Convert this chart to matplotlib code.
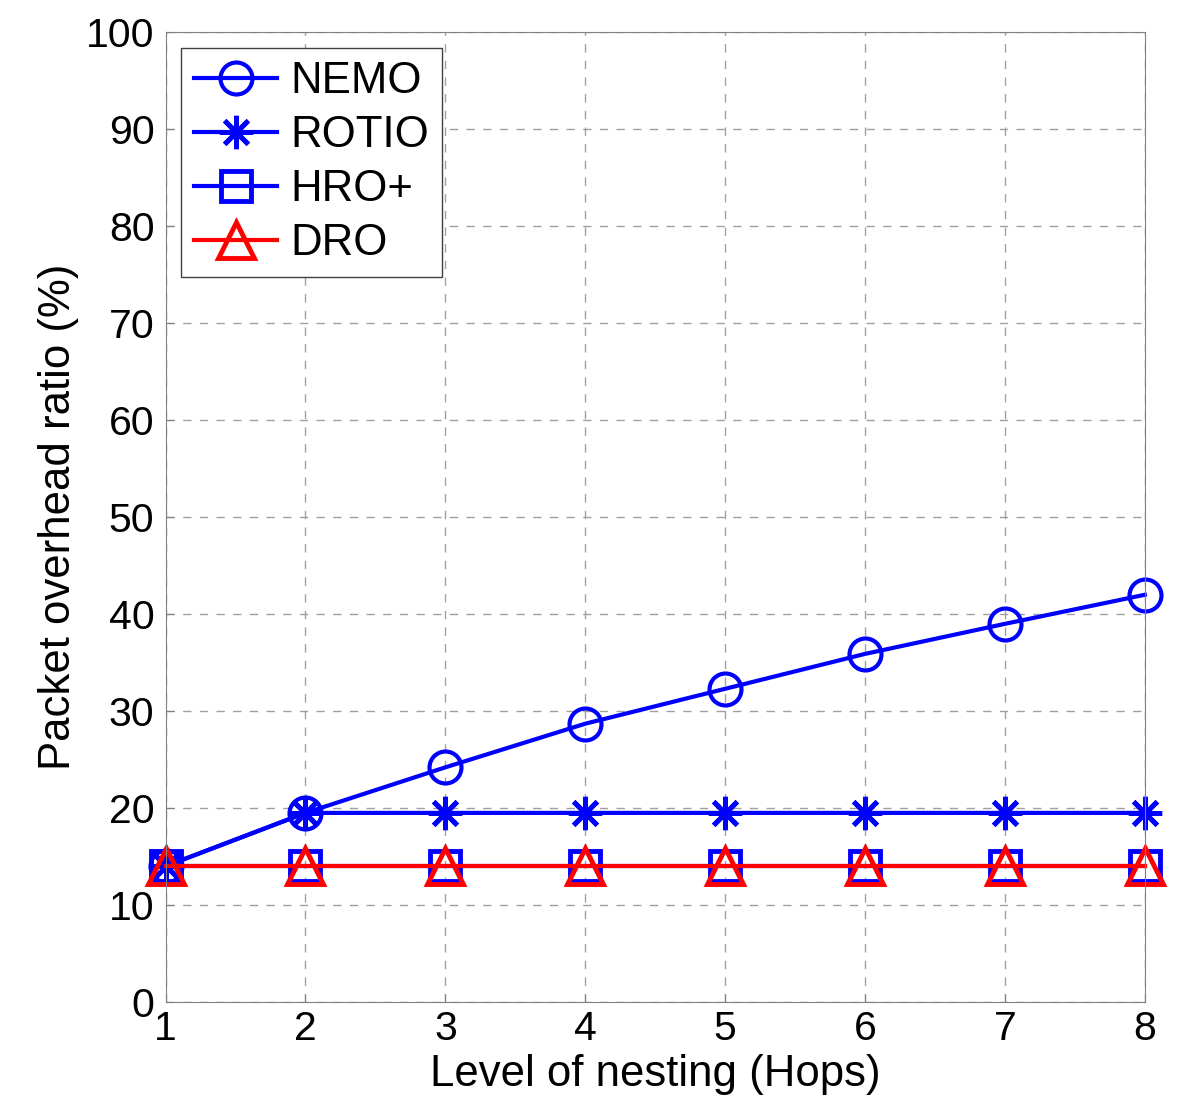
import matplotlib
matplotlib.use("Agg")
import matplotlib.pyplot as plt

# Values
hops = [1, 2, 3, 4, 5, 6, 7, 8]
nemo = [14.0, 19.5, 24.2, 28.7, 32.3, 35.9, 39.0, 42.0]
rotio = [14.0, 19.5, 19.5, 19.5, 19.5, 19.5, 19.5, 19.5]
hro_plus = [14.0, 14.0, 14.0, 14.0, 14.0, 14.0, 14.0, 14.0]
dro = [14.0, 14.0, 14.0, 14.0, 14.0, 14.0, 14.0, 14.0]

plt.rcParams["font.family"] = ["Liberation Sans", "DejaVu Sans"]

fig = plt.figure(figsize=(12, 11.19), dpi=100)
ax = fig.add_axes([0.138, 0.1046, 0.816, 0.8664])

lw = 3
kw = dict(lw=lw, clip_on=False)
ax.plot(hops, nemo, color="#0000ff", marker="o", ms=23,
        mfc="none", mew=3, label="NEMO", **kw)
ax.plot(hops, rotio, color="#0000ff", marker=(8, 2, 0), ms=24,
        mew=3.5, label="ROTIO", **kw)
ax.plot(hops, hro_plus, color="#0000ff", marker="s", ms=21,
        mfc="none", mew=3.5, label="HRO+", **kw)
ax.plot(hops, dro, color="#ff0000", marker="^", ms=26,
        mfc="none", mew=3.5, label="DRO", **kw)

ax.set_xlim(1, 8)
ax.set_ylim(0, 100)
ax.set_xticks(hops)
ax.set_yticks(range(0, 101, 10))
ax.tick_params(labelsize=29.5, direction="in", length=6, color="#808080")
ax.tick_params(axis="y", pad=8)
ax.tick_params(axis="x", pad=6)
ax.grid(True, ls=(0, (6, 6)), color="#a0a0a0", lw=1)
for s in ax.spines.values():
    s.set_color("#808080")

ax.set_xlabel("Level of nesting (Hops)", fontsize=31.5, labelpad=4)
ax.set_ylabel("Packet overhead ratio (%)", fontsize=31.5, labelpad=5)

leg = ax.legend(loc="upper left", fontsize=31.5, fancybox=False,
                edgecolor="#404040", framealpha=1, handlelength=1.9,
                borderaxespad=0.35, borderpad=0.3, labelspacing=0.3,
                handletextpad=0.3)
leg.get_frame().set_linewidth(1)

fig.savefig("out.png", dpi=100)
